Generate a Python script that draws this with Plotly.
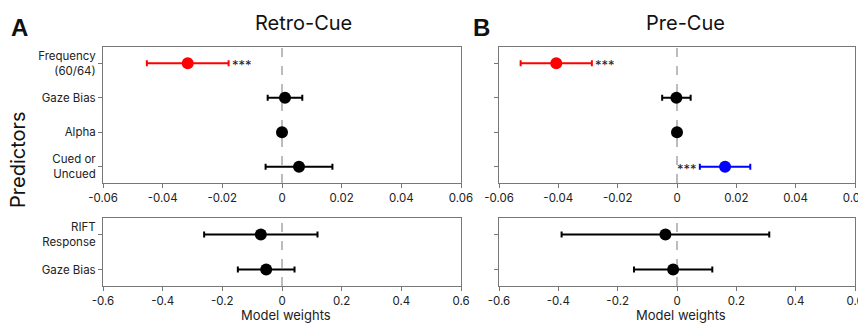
import plotly.graph_objects as go

# ---- data ----
top_predictors = ["Frequency<br>(60/64)", "Gaze Bias", "Alpha", "Cued or<br>Uncued"]
retro_top_mean = [-0.0316, 0.0010, 0.0000, 0.0057]
retro_top_err = [0.0137, 0.0058, 0.0006, 0.0112]
pre_top_mean = [-0.0407, -0.0002, 0.0000, 0.0162]
pre_top_err = [0.0120, 0.0048, 0.0004, 0.0085]

bottom_predictors = ["RIFT<br>Response", "Gaze Bias"]
retro_bot_mean = [-0.071, -0.053]
retro_bot_err = [0.190, 0.095]
pre_bot_mean = [-0.039, -0.013]
pre_bot_err = [0.350, 0.132]

top_ticks = [-0.06, -0.04, -0.02, 0, 0.02, 0.04, 0.06]
top_ticklabels = ["-0.06", "-0.04", "-0.02", "0", "0.02", "0.04", "0.06"]
bot_ticks = [-0.6, -0.4, -0.2, 0, 0.2, 0.4, 0.6]
bot_ticklabels = ["-0.6", "-0.4", "-0.2", "0", "0.2", "0.4", "0.6"]

# significance markers: (row index, side)
stars_retro = [(0, "right")]
stars_pre = [(0, "right"), (3, "left")]

# ---- style ----
retro_top_colors = ["#ff0000", "black", "black", "black"]
pre_top_colors = ["#ff0000", "black", "black", "#0000ff"]
FONT = "Inter"
AXC = "#777777"

# page has an 8px body margin: figure drawn 8px in from the window corner
OFF = 8
W, H = 866, 323 - OFF
def fx(p):
    return (p - OFF) / W
def fy(p):
    return 1 - (p - OFF) / H
def px_x(a, b):
    return [fx(a), fx(b)]
def px_y(top, bot):
    return [fy(bot), fy(top)]

fig = go.Figure()

panels = [
    ("x", "y", retro_top_mean, retro_top_err, retro_top_colors, top_predictors),
    ("x2", "y2", pre_top_mean, pre_top_err, pre_top_colors, top_predictors),
    ("x3", "y3", retro_bot_mean, retro_bot_err, ["black"] * 2, bottom_predictors),
    ("x4", "y4", pre_bot_mean, pre_bot_err, ["black"] * 2, bottom_predictors),
]

for xa, ya, means, errs, cols, cats in panels:
    for i, (m, e, c) in enumerate(zip(means, errs, cols)):
        fig.add_trace(go.Scatter(
            x=[m], y=[i], xaxis=xa, yaxis=ya, mode="markers",
            marker=dict(color=c, size=12),
            error_x=dict(type="data", array=[e], color=c, thickness=2, width=3),
            showlegend=False, hoverinfo="x+y",
        ))

layout = dict(
    width=W, height=H, autosize=False, margin=dict(l=0, r=0, t=0, b=0, pad=0),
    plot_bgcolor="white", paper_bgcolor="white",
    font=dict(family=FONT, color="#222222", size=11),
    showlegend=False,
)

def xaxis_cfg(dom, ticks, labels, anchor):
    return dict(domain=dom, range=[ticks[0], ticks[-1]], tickvals=ticks, ticktext=labels,
                showgrid=False, zeroline=False, showline=True, linecolor=AXC, linewidth=1,
                mirror=True, ticks="outside", ticklen=4, tickcolor=AXC, anchor=anchor,
                automargin=False,
                tickfont=dict(size=11.5, family=FONT, color="#222"))

def yaxis_cfg(dom, cats, anchor):
    n = len(cats)
    return dict(domain=dom, range=[n - 1 + 0.47, -0.47], tickvals=list(range(n)), ticktext=cats,
                showgrid=False, zeroline=False, showline=True, linecolor=AXC, linewidth=1,
                mirror=True, ticks="outside", ticklen=4, tickcolor=AXC, anchor=anchor,
                automargin=False,
                tickfont=dict(size=11.5, family=FONT, color="#222"))

xd1 = px_x(103, 461)
xd2 = px_x(499, 855)
yt = px_y(47, 183)
yb = px_y(218, 286)

layout["xaxis"] = xaxis_cfg(xd1, top_ticks, top_ticklabels, "y")
layout["xaxis2"] = xaxis_cfg(xd2, top_ticks, top_ticklabels, "y2")
layout["xaxis3"] = xaxis_cfg(xd1, bot_ticks, bot_ticklabels, "y3")
layout["xaxis4"] = xaxis_cfg(xd2, bot_ticks, bot_ticklabels, "y4")
layout["yaxis"] = yaxis_cfg(yt, top_predictors, "x")
layout["yaxis2"] = yaxis_cfg(yt, top_predictors, "x2")
layout["yaxis2"]["showticklabels"] = False
layout["yaxis3"] = yaxis_cfg(yb, bottom_predictors, "x3")
layout["yaxis4"] = yaxis_cfg(yb, bottom_predictors, "x4")
layout["yaxis4"]["showticklabels"] = False
fig.update_layout(**layout)

for xa, ya in [("x", "y"), ("x2", "y2"), ("x3", "y3"), ("x4", "y4")]:
    fig.add_shape(type="line", xref=xa, yref=ya + " domain", x0=0, x1=0, y0=0, y1=1,
                  line=dict(color="#999999", width=1.3, dash="dash"), layer="below")

ann = []
def stars(xa, ya, means, errs, spec):
    for idx, side in spec:
        if side == "right":
            ann.append(dict(x=means[idx] + errs[idx], y=idx, xref=xa, yref=ya, text="***",
                            showarrow=False, xanchor="left", xshift=1, yshift=-2,
                            font=dict(size=13, color="#222")))
        else:
            ann.append(dict(x=means[idx] - errs[idx], y=idx, xref=xa, yref=ya, text="***",
                            showarrow=False, xanchor="right", xshift=-1, yshift=-2,
                            font=dict(size=13, color="#222")))

stars("x", "y", retro_top_mean, retro_top_err, stars_retro)
stars("x2", "y2", pre_top_mean, pre_top_err, stars_pre)

ann += [
    dict(x=fx(303), y=fy(23), xref="paper", yref="paper", text="Retro-Cue", showarrow=False,
         font=dict(size=20, color="#111"), xanchor="center", yanchor="middle"),
    dict(x=fx(685), y=fy(23), xref="paper", yref="paper", text="Pre-Cue", showarrow=False,
         font=dict(size=20, color="#111"), xanchor="center", yanchor="middle"),
    dict(x=fx(19), y=fy(27), xref="paper", yref="paper", text="<b>A</b>", showarrow=False,
         font=dict(size=24, color="#111", family="Liberation Sans"), xanchor="center", yanchor="middle"),
    dict(x=fx(481), y=fy(27), xref="paper", yref="paper", text="<b>B</b>", showarrow=False,
         font=dict(size=24, color="#111", family="Liberation Sans"), xanchor="center", yanchor="middle"),
    dict(x=fx(18), y=fy(160), xref="paper", yref="paper", text="Predictors", showarrow=False,
         textangle=-90, font=dict(size=20, color="#111"), xanchor="center", yanchor="middle"),
    dict(x=fx(286), y=fy(315), xref="paper", yref="paper", text="Model weights", showarrow=False,
         font=dict(size=13, color="#222"), xanchor="center", yanchor="middle"),
    dict(x=fx(681), y=fy(315), xref="paper", yref="paper", text="Model weights", showarrow=False,
         font=dict(size=13, color="#222"), xanchor="center", yanchor="middle"),
]
fig.update_layout(annotations=ann)

fig.write_html("out.html")
